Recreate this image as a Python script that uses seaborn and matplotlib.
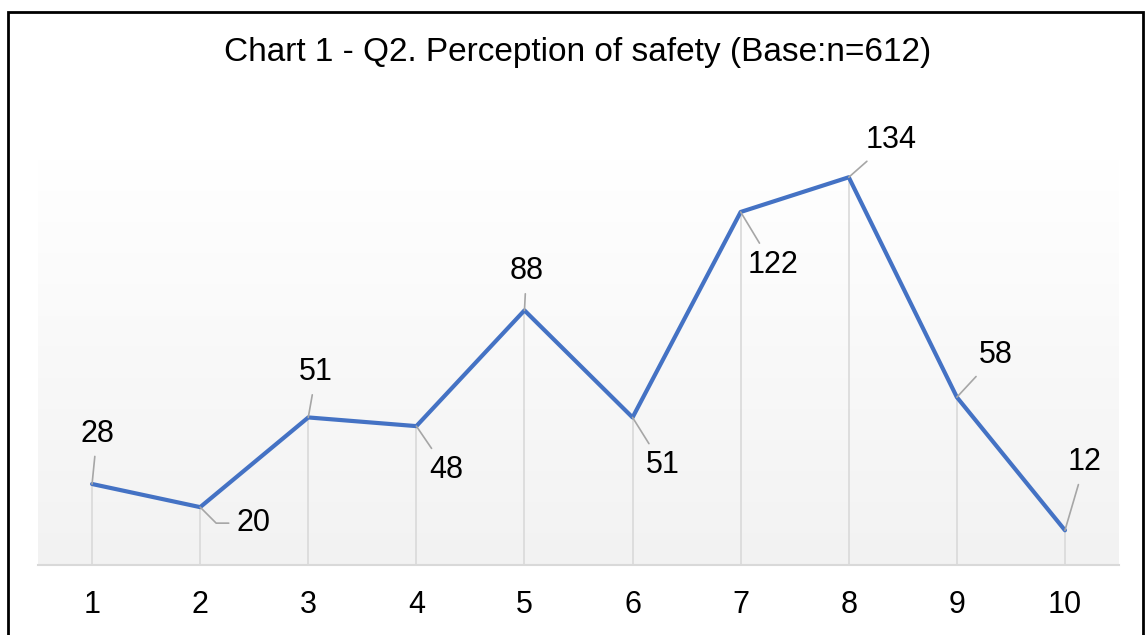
import numpy as np
import pandas as pd
import seaborn as sns
import matplotlib.pyplot as plt
from matplotlib.patches import Rectangle

# Q2 perception of safety, rating 1-10, counts
ratings = list(range(1, 11))
counts = [28, 20, 51, 48, 88, 51, 122, 134, 58, 12]
title = "Chart 1 - Q2. Perception of safety (Base:n=612)"

# label offsets in pixels (dx, dy) relative to the point
label_offsets = [(5, 50), (53, -16), (8, 45), (30, -44), (2, 39),
                 (30, -48), (32, -53), (42, 37), (39, 42), (20, 68)]

sns.set_theme(style="white")
plt.rcParams['font.family'] = ['Liberation Sans', 'DejaVu Sans']

df = pd.DataFrame({"rating": ratings, "count": counts})

fig = plt.figure(figsize=(11.45, 6.35), dpi=100)
ax = fig.add_axes([0.0332, 0.1102, 0.9441, 0.638])

# soft vertical gradient like the Excel plot area
grad = np.linspace(0, 1, 256).reshape(-1, 1)
ax.imshow(grad, extent=[0, 1, 0, 1], transform=ax.transAxes, aspect="auto",
          cmap=plt.matplotlib.colors.LinearSegmentedColormap.from_list(
              "g", ["#f2f2f2", "#ffffff"]), origin="lower", zorder=0)

ax.vlines(df["rating"], 0, df["count"], color="#d9d9d9", lw=1.2, zorder=1)
sns.lineplot(data=df, x="rating", y="count", ax=ax, color="#4472C4",
             lw=3, zorder=3)

for i, ((x, y), (dx, dy)) in enumerate(zip(zip(ratings, counts), label_offsets)):
    conn = "angle,angleA=0,angleB=-45,rad=0" if i == 1 else "arc3"
    ax.annotate(str(y), xy=(x, y), xytext=(dx, dy), textcoords="offset pixels",
                ha="center", va="center", fontsize=22, color="black",
                arrowprops=dict(arrowstyle="-", color="#a6a6a6", lw=1.2,
                                shrinkA=3, shrinkB=0, connectionstyle=conn),
                zorder=4)

ax.set_xlim(0.5, 10.5)
ax.set_ylim(0, 140)
ax.set_xticks(ratings)
ax.set_xticklabels([str(r) for r in ratings], fontsize=22, color="black")
ax.tick_params(axis="x", length=0, pad=18)
ax.set_yticks([])
ax.set_xlabel("")
ax.set_ylabel("")
for s in ["top", "left", "right"]:
    ax.spines[s].set_visible(False)
ax.spines["bottom"].set_color("#d9d9d9")
ax.spines["bottom"].set_linewidth(1.5)
ax.patch.set_alpha(0)

fig.text(0.5045, 1 - 53 / 635, title, ha="center", va="center", fontsize=24,
         color="black")
fig.patches.append(Rectangle((8 / 1145, -0.05), 1135 / 1145, 1.05 - 12 / 635,
                             transform=fig.transFigure, fill=False,
                             edgecolor="black", lw=2, zorder=10))

fig.savefig("out.png", dpi=100)
